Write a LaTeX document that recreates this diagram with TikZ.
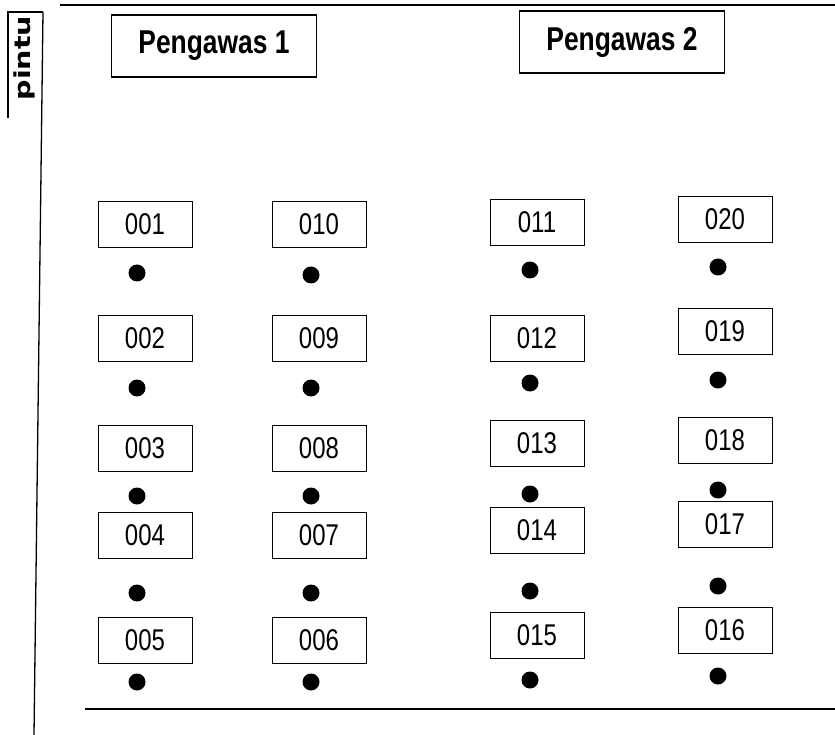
\documentclass[tikz,border=0pt]{standalone}
\usepackage{fontspec}
\setmainfont{Liberation Sans}
\newfontfamily\numfont[FakeStretch=0.8]{Liberation Sans}
\newfontfamily\doorfont[FakeStretch=1.3]{DejaVu Sans}

\tikzset{
  desk/.style = {draw, line width = 0.9pt, minimum width = 94pt,
    minimum height = 46pt, inner sep = 0pt,
    font = \numfont\fontsize{30}{30}\selectfont},
  boss/.style = {draw, line width = 1.1pt, minimum width = 205pt,
    minimum height = 62pt, inner sep = 0pt,
    font = \numfont\bfseries\fontsize{33}{33}\selectfont},
  seat/.style = {circle, fill, inner sep = 0pt, minimum size = 17pt},
  wall/.style = {line width = 1.3pt},
}

\begin{document}
\begin{tikzpicture}[x = 1pt, y = -1pt]
  \useasboundingbox (0, 0) rectangle (835, 735);

  % walls and door
  \draw[wall] (60, 5) -- (835, 5);
  \draw[wall] (43, 12) -- (34, 735);
  \draw[wall] (85, 709) -- (835, 709);
  \draw[wall] (43, 12) -- (8, 12) -- (8, 118);
  \node[rotate = 90, font = \doorfont\bfseries\fontsize{22}{22}\selectfont]
    (door) at (24, 58) {pintu};

  % supervisors
  \node[boss] (p1) at (214, 46) {Pengawas 1};
  \node[boss] (p2) at (622, 42) {Pengawas 2};

  % column 1
  \node[desk] (d001) at (145, 224) {001};
  \node[seat] (s001) at (137, 273) {};
  \node[desk] (d002) at (145, 338) {002};
  \node[seat] (s002) at (137, 388) {};
  \node[desk] (d003) at (145, 448) {003};
  \node[seat] (s003) at (137, 496) {};
  \node[desk] (d004) at (145, 535) {004};
  \node[seat] (s004) at (137, 593) {};
  \node[desk] (d005) at (145, 640) {005};
  \node[seat] (s005) at (137, 682) {};

  % column 2
  \node[desk] (d010) at (319, 224) {010};
  \node[seat] (s010) at (311, 275) {};
  \node[desk] (d009) at (319, 338) {009};
  \node[seat] (s009) at (311, 388) {};
  \node[desk] (d008) at (319, 448) {008};
  \node[seat] (s008) at (311, 496) {};
  \node[desk] (d007) at (319, 535) {007};
  \node[seat] (s007) at (311, 593) {};
  \node[desk] (d006) at (319, 640) {006};
  \node[seat] (s006) at (311, 682) {};

  % column 3
  \node[desk] (d011) at (537, 222) {011};
  \node[seat] (s011) at (530, 270) {};
  \node[desk] (d012) at (537, 338) {012};
  \node[seat] (s012) at (530, 383) {};
  \node[desk] (d013) at (537, 443) {013};
  \node[seat] (s013) at (530, 494) {};
  \node[desk] (d014) at (537, 530) {014};
  \node[seat] (s014) at (530, 591) {};
  \node[desk] (d015) at (537, 635) {015};
  \node[seat] (s015) at (530, 680) {};

  % column 4
  \node[desk] (d020) at (725, 219) {020};
  \node[seat] (s020) at (718, 267) {};
  \node[desk] (d019) at (725, 331) {019};
  \node[seat] (s019) at (718, 380) {};
  \node[desk] (d018) at (725, 440) {018};
  \node[seat] (s018) at (718, 490) {};
  \node[desk] (d017) at (725, 524) {017};
  \node[seat] (s017) at (718, 586) {};
  \node[desk] (d016) at (725, 630) {016};
  \node[seat] (s016) at (718, 676) {};

\end{tikzpicture}
\end{document}
